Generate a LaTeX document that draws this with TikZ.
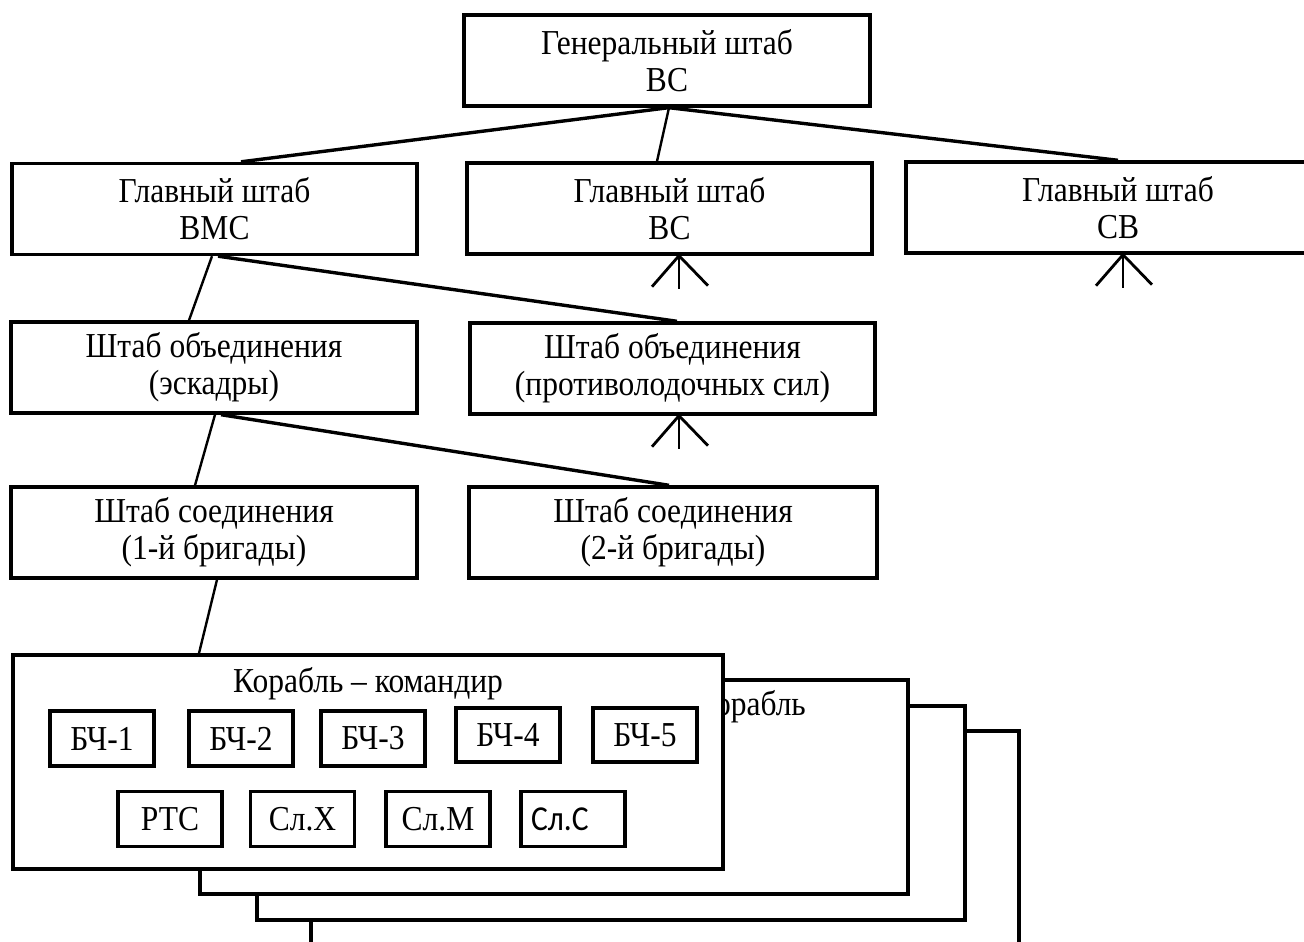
\documentclass[tikz,border=0pt]{standalone}
\usepackage{fontspec}
\setmainfont{Liberation Serif}[FakeStretch=0.9]
\newfontfamily\calfont{Carlito}[FakeStretch=0.9]
\usetikzlibrary{calc}
\newcommand{\bigtxt}{\fontsize{35}{37}\selectfont}
\tikzset{
  box/.style={draw, line width=3.4pt, fill=white, inner sep=0pt, align=center, font=\bigtxt},
  hq/.style={box, minimum width=405pt, minimum height=91pt},
  shipbox/.style={draw, line width=3.4pt, fill=white, minimum width=708pt, minimum height=214pt, inner sep=0pt},
  unit/.style={box, minimum width=104pt, minimum height=55pt},
  thickc/.style={line width=3.4pt},
  thinc/.style={line width=2.4pt},
  crow/.style={line width=2.8pt},
}
\begin{document}
\begin{tikzpicture}[x=1pt,y=-1pt]
\useasboundingbox (0,0) rectangle (1304,942);
\clip (0,0) rectangle (1304,942);

% headquarters
\node[hq, minimum width=406pt] (gen) at (667,60.5) {Генеральный штаб\\ВС};
\node[hq] (vmc) at (214.5,209) {Главный штаб\\ВМС};
\node[hq] (vs) at (669.5,208.5) {Главный штаб\\ВС};
\node[hq, minimum width=424pt] (sv) at (1118,207.5) {Главный штаб\\СВ};
\node[hq, minimum width=406pt] (esk) at (214,367.5) {Штаб объединения\\(эскадры)};
\node[hq] (prot) at (672.5,368.5) {Штаб объединения\\(противолодочных сил)};
\node[hq, minimum width=406pt] (br1) at (214,532.5) {Штаб соединения\\(1-й бригады)};
\node[hq, minimum width=408pt] (br2) at (673,532.5) {Штаб соединения\\(2-й бригады)};

% ship stack
\node[shipbox] (ship4) at (665,838) {};
\node[shipbox] (ship3) at (611,813) {};
\node[shipbox] (ship2) at (554,787) {};
\node[anchor=base east, inner sep=0pt, font=\bigtxt] (ship2lbl) at (806,715) {Корабль};
\node[shipbox, minimum width=710pt] (ship) at (368,762) {};
\node[anchor=base, inner sep=0pt, font=\bigtxt] (shiplbl) at (368,692) {Корабль – командир};

% departments
\node[unit] (b1) at (102,738.5) {БЧ-1};
\node[unit] (b2) at (241,738.5) {БЧ-2};
\node[unit] (b3) at (373,738.5) {БЧ-3};
\node[unit, minimum height=54pt] (b4) at (508,735) {БЧ-4};
\node[unit, minimum height=54pt] (b5) at (645,735) {БЧ-5};
\node[unit] (rts) at (170,819) {РТС};
\node[unit] (slx) at (302.5,819) {Сл.Х};
\node[unit] (slm) at (438,819) {Сл.М};
\node[unit, align=left, text width=84pt, font=\calfont\bigtxt] (sls) at (573,819) {Сл.С};

% connectors
\draw[thickc] ([xshift=1.5pt]gen.south) -- ([xshift=26.5pt]vmc.north);
\draw[thinc]  ([xshift=2pt]gen.south) -- ([xshift=-12.5pt]vs.north);
\draw[thickc] ([xshift=2pt]gen.south) -- (sv.north);
\draw[thinc]  ([xshift=-2.5pt]vmc.south) -- ([xshift=-25pt]esk.north);
\draw[thickc] ([xshift=3.5pt]vmc.south) -- ([xshift=4.5pt]prot.north);
\draw[thinc]  ([xshift=1pt]esk.south) -- ([xshift=-19pt]br1.north);
\draw[thickc] ([xshift=7pt]esk.south) -- ([xshift=-4pt]br2.north);
\draw[thinc]  ([xshift=3pt]br1.south) -- ([xshift=-169pt]ship.north);

% crow's feet
\coordinate (vsT) at ([xshift=9.5pt]vs.south);
\coordinate (svT) at ([xshift=5pt]sv.south);
\coordinate (protT) at ([xshift=6.5pt]prot.south);
\foreach \t in {vsT,svT,protT}{
  \draw[crow] (\t) -- ++(0,33);
  \draw[crow] (\t) -- ++(-27,31);
  \draw[crow] (\t) -- ++(29,30);
}
\end{tikzpicture}
\end{document}
